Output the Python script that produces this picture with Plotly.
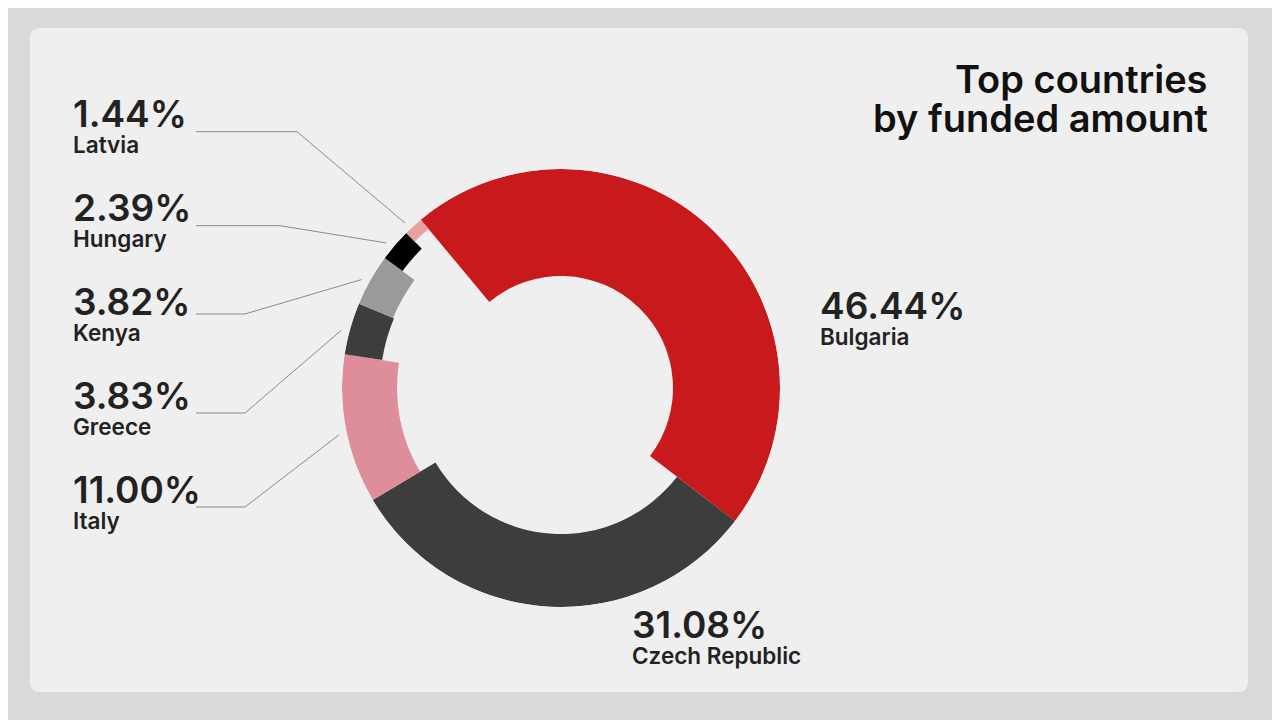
import math
import plotly.graph_objects as go

# ---------------- data ----------------
countries = ["Bulgaria", "Czech Republic", "Italy", "Greece", "Kenya", "Hungary", "Latvia"]
shares = [46.44, 31.08, 11.00, 3.83, 3.82, 2.39, 1.44]
share_labels = ["46.44%", "31.08%", "11.00%", "3.83%", "3.82%", "2.39%", "1.44%"]

# ---------------- style ----------------
colors = ["#C8191D", "#3D3D3D", "#DE8E9A", "#3D3D3D", "#9A9A9A", "#000000", "#E8A1A1"]
ring_thickness = [107, 73, 55, 38, 37, 22, 12]   # radial depth of each slice
R_OUT = 219
START_ANGLE = 320.2   # clockwise from 12 o'clock
W, H = 1280, 720
OFF = 8               # page body margin offset
CX, CY = 561, 388     # donut centre in page px

# slice geometry (degrees, clockwise from top)
widths = [s * 3.6 for s in shares]
mids = []
acc = START_ANGLE
for w in widths:
    mids.append((acc + w / 2) % 360)
    acc += w
bases = [R_OUT - t for t in ring_thickness]

fig = go.Figure()
fig.add_trace(go.Barpolar(
    r=ring_thickness,
    base=bases,
    theta=mids,
    width=widths,
    marker=dict(color=colors, line=dict(width=0)),
    text=countries,
    hoverinfo="text",
    showlegend=False,
))

def px(x):
    return (x - OFF) / W

def py(y):
    return 1 - (y - OFF) / H

fig.update_layout(
    width=W, height=H,
    margin=dict(l=0, r=0, t=0, b=0),
    paper_bgcolor="#d9d9d9",
    plot_bgcolor="rgba(0,0,0,0)",
    font=dict(family="Inter", color="#222222"),
    polar=dict(
        domain=dict(x=[px(CX - R_OUT), px(CX + R_OUT)], y=[py(CY + R_OUT), py(CY - R_OUT)]),
        bgcolor="rgba(0,0,0,0)",
        hole=0,
        radialaxis=dict(visible=False, range=[0, R_OUT]),
        angularaxis=dict(visible=False, rotation=90, direction="clockwise"),
    ),
)

# card background (rounded rect)
x0, y0, x1, y1, rr = 30, 28, 1248, 692, 10
path = (f"M {px(x0+rr)},{py(y0)} L {px(x1-rr)},{py(y0)} Q {px(x1)},{py(y0)} {px(x1)},{py(y0+rr)} "
        f"L {px(x1)},{py(y1-rr)} Q {px(x1)},{py(y1)} {px(x1-rr)},{py(y1)} "
        f"L {px(x0+rr)},{py(y1)} Q {px(x0)},{py(y1)} {px(x0)},{py(y1-rr)} "
        f"L {px(x0)},{py(y0+rr)} Q {px(x0)},{py(y0)} {px(x0+rr)},{py(y0)} Z")
fig.add_shape(type="path", path=path, xref="paper", yref="paper",
              fillcolor="#efefef", line=dict(width=0), layer="below")

# title
for txt, yy in [("Top countries", 79), ("by funded amount", 118)]:
    fig.add_annotation(text=txt, x=px(1210), y=py(yy), xref="paper", yref="paper",
                       xanchor="right", yanchor="middle", showarrow=False,
                       font=dict(family="Inter", size=38, weight=600, color="#111111"))

def label(i, x, baseline):
    txt = (f"<span style='font-size:37px'>{share_labels[i]}</span><br>"
           f"<span style='font-size:22.5px'>{countries[i]}</span>")
    fig.add_annotation(text=txt, x=px(x), y=py(baseline - 2.25), xref="paper", yref="paper",
                       xanchor="left", yanchor="middle", align="left", showarrow=False,
                       font=dict(family="Inter", size=20, weight=600, color="#222222"))

# right-side labels
label(0, 818, 319)
label(1, 630, 638)

# left-side labels with leader lines (Latvia at top -> Italy at bottom)
left_order = [6, 5, 4, 3, 2]
line_y = [131.7, 225.7, 314, 413, 507]
elbow_x = [297, 280, 245, 245, 245]
for k, i in enumerate(left_order):
    label(i, 71, 126.7 + 94 * k)
    a = math.radians(mids[i] - 1.0)
    r_end = 227
    ex = CX + r_end * math.sin(a)
    ey = CY - r_end * math.cos(a)
    fig.add_shape(type="path", xref="paper", yref="paper",
                  path=f"M {px(196)},{py(line_y[k])} L {px(elbow_x[k])},{py(line_y[k])} L {px(ex)},{py(ey)}",
                  line=dict(color="#8a8a8a", width=1))

fig.write_html("out.html")
